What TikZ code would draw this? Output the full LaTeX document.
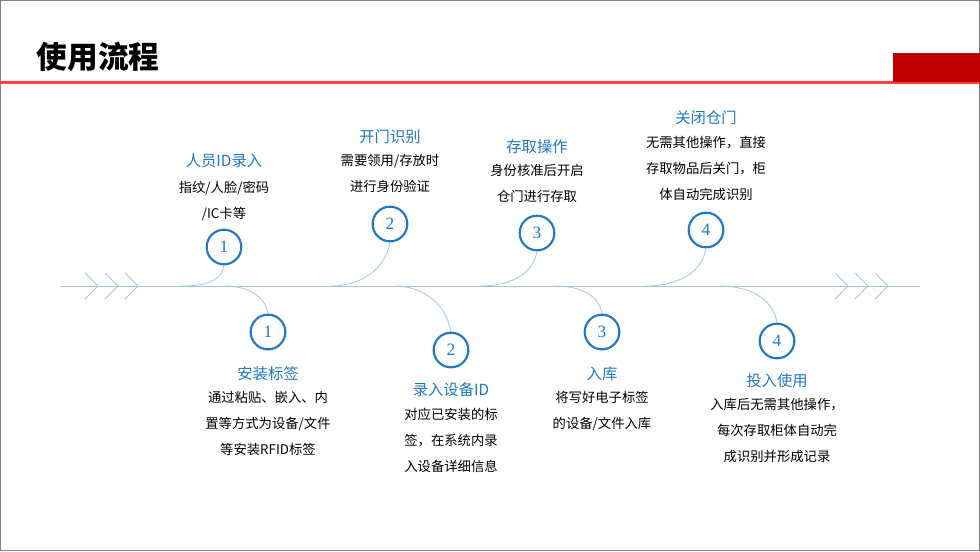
\documentclass[tikz,border=0pt]{standalone}
\usepackage{fontspec}
\setmainfont{Noto Sans CJK SC}
\newfontfamily\numfont{Liberation Serif}
\begin{document}
\begin{tikzpicture}[x=0.75pt,y=-0.75pt,
  circ/.style={circle,draw=cblue,line width=1.6pt,minimum size=26pt,inner sep=0pt,font=\numfont\fontsize{13}{13}\selectfont,text=cblue},
  head/.style={text=cblue,font=\fontsize{11.5}{13}\selectfont},
  body/.style={font=\fontsize{10}{19.5}\selectfont,align=center,text=black},
  conn/.style={draw=lblue,line width=0.6pt},
  chev/.style={draw=lblue,line width=0.6pt}]
\definecolor{cblue}{HTML}{1F78C1}
\definecolor{lblue}{HTML}{A4C6E6}
\definecolor{cred}{HTML}{C00000}
\useasboundingbox (0,0) rectangle (980,551);
\draw[gray,line width=1pt] (0.5,0.5) rectangle (979.5,550.5);
\node[anchor=west,font=\bfseries\fontsize{23}{23}\selectfont] (title) at (32,57) {使用流程};
\fill[red!75!white] (0,81) rectangle (980,84);
\fill[cred] (893,53) rectangle (980,82);
% main line
\coordinate (L) at (60,286); \coordinate (R) at (920,286);
\draw[conn] (L) -- (R);
\foreach \x in {85,105,125,835,855,875}{\draw[chev] (\x,273) -- (\x+13,286) -- (\x,299);}
% top
\node[circ] (t1) at (224,247) {1};
\node[circ] (t2) at (390,224) {2};
\node[circ] (t3) at (537,233) {3};
\node[circ] (t4) at (706,230) {4};
\draw[conn] (t1.south) to[out=-100,in=0] (180,286);
\draw[conn] (t2.south) to[out=-100,in=0] (330,286);
\draw[conn] (t3.south) to[out=-100,in=0] (480,286);
\draw[conn] (t4.south) to[out=-100,in=0] (645,286);
\node[circ] (b1) at (268,332) {1};
\node[circ] (b2) at (451,350) {2};
\node[circ] (b3) at (602,332) {3};
\node[circ] (b4) at (777,341) {4};
\draw[conn] (225,286) to[out=0,in=100] (b1.north);
\draw[conn] (395,286) to[out=0,in=100] (b2.north);
\draw[conn] (555,286) to[out=0,in=100] (b3.north);
\draw[conn] (720,286) to[out=0,in=100] (b4.north);
% texts top
\node[head] (h1) at (224,161) {人员ID录入};
\node[body,anchor=north] (x1) at (224,176) {指纹/人脸/密码\\/IC卡等};
\node[head] (h2) at (390,137) {开门识别};
\node[body,anchor=north] (x2) at (390,150) {需要领用/存放时\\进行身份验证};
\node[head] (h3) at (537,147) {存取操作};
\node[body,anchor=north] (x3) at (537,160) {身份核准后开启\\仓门进行存取};
\node[head] (h4) at (706,118) {关闭仓门};
\node[body,anchor=north] (x4) at (706,132) {无需其他操作，直接\\存取物品后关门，柜\\体自动完成识别};
% texts bottom
\node[head] (g1) at (268,374) {安装标签};
\node[body,anchor=north] (y1) at (268,387) {通过粘贴、嵌入、内\\置等方式为设备/文件\\等安装RFID标签};
\node[head] (g2) at (451,390) {录入设备ID};
\node[body,anchor=north] (y2) at (451,403) {对应已安装的标\\签，在系统内录\\入设备详细信息};
\node[head] (g3) at (602,374) {入库};
\node[body,anchor=north] (y3) at (602,387) {将写好电子标签\\的设备/文件入库};
\node[head] (g4) at (777,381) {投入使用};
\node[body,anchor=north] (y4) at (777,394) {入库后无需其他操作，\\每次存取柜体自动完\\成识别并形成记录};
\end{tikzpicture}
\end{document}
